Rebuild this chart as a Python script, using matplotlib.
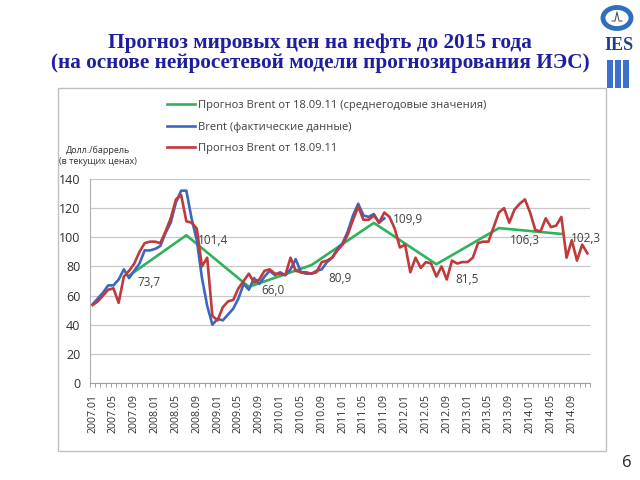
import numpy as np
import matplotlib
matplotlib.use("Agg")
import matplotlib.pyplot as plt
from matplotlib.patches import Rectangle, Circle
from matplotlib.lines import Line2D

plt.rcParams['font.family'] = ['Open Sans', 'DejaVu Sans']

# monthly categories 2007.01 .. 2014.12
years = range(2007, 2015)
categories = [f"{y}.{m:02d}" for y in years for m in range(1, 13)]

# Brent, actual monthly data (2007.01 .. 2011.09)
brent_actual = [54, 58, 62, 67, 67, 71, 78, 72, 77, 82, 91, 91,
                92, 94, 103, 110, 124, 132, 132, 113, 98, 72, 53, 40,
                44, 43, 47, 51, 58, 68, 64, 72, 68, 73, 77, 74,
                76, 74, 78, 85, 76, 75, 75, 77, 78, 83, 86, 92,
                96, 104, 115, 123, 115, 114, 116, 110, 113]

# neural network forecast from 18.09.11, monthly (2007.01 .. 2014.12)
brent_forecast = [53.5, 56, 60, 64, 65, 55, 73, 77, 82, 90, 96, 97,
                  97, 96, 104, 113, 126, 129, 111, 110, 106, 80, 86, 46,
                  43, 52, 56, 57, 65, 70, 75, 69, 71, 77, 78, 75,
                  75, 74, 86, 77, 76, 76, 75, 76, 83, 84, 86, 91,
                  95, 102, 112, 121, 112, 112, 115, 110, 117, 114, 106, 93,
                  95, 76, 86, 79, 83, 82, 73, 80, 71, 84, 82, 83,
                  83, 86, 96, 97, 97, 107, 117, 120, 110, 119, 123, 126,
                  117, 105, 104, 113, 107, 108, 114, 86, 98, 84, 95, 89]

# annual averages of the forecast
annual_months = ['2007.08', '2008.07', '2009.07', '2010.07',
                 '2011.07', '2012.07', '2013.07', '2014.07']
annual_values = [73.7, 101.4, 66.0, 80.9, 109.9, 81.5, 106.3, 102.3]
annual_labels = ['73,7', '101,4', '66,0', '80,9', '109,9', '81,5', '106,3', '102,3']

GREEN = '#2fb25a'
BLUE = '#3a68c0'
RED = '#c0393b'
TITLE_BLUE = '#1e1ea0'

fig = plt.figure(figsize=(6.4, 4.8), dpi=100)
W, H = 640, 480


def fx(px):
    return px / W


def fy(py):
    return 1 - py / H


ax = fig.add_axes([fx(90), fy(383), fx(500), (383 - 179) / H])

x_all = np.arange(len(categories))
x_actual = np.arange(len(brent_actual))
x_annual = [categories.index(m) for m in annual_months]

l_green, = ax.plot(x_annual, annual_values, color=GREEN, lw=1.9, zorder=3)
l_blue, = ax.plot(x_actual, brent_actual, color=BLUE, lw=1.9, zorder=4)
l_red, = ax.plot(x_all, brent_forecast, color=RED, lw=1.9, zorder=5)

label_offsets = [(8, -7), (12, -5), (13, -4), (17, -13), (19, 3), (19, -15), (11, -12), (10, -5)]
for xi, v, txt, off in zip(x_annual, annual_values, annual_labels, label_offsets):
    ax.annotate(txt, (xi, v), xytext=off, textcoords='offset pixels',
                fontsize=8.5, color='#404040', ha='left', va='center', zorder=6)

ax.set_xlim(-0.5, len(categories) - 0.5)
ax.set_ylim(0, 140)
ax.set_yticks(range(0, 141, 20))
ax.yaxis.grid(True, color='#c8c8c8', lw=0.9)
ax.set_axisbelow(True)
ax.tick_params(axis='y', length=0, pad=7, labelsize=9, labelcolor='#303030')

ax.set_xticks(x_all[::4])
ax.set_xticklabels(categories[::4], rotation=90, fontsize=7.7, color='#303030')
ax.set_xticks(np.arange(-0.5, len(categories)), minor=True)
ax.tick_params(axis='x', which='major', length=0, pad=8)
ax.tick_params(axis='x', which='minor', length=3, color='#a0a0a0', width=0.7)

for s in ('top', 'right'):
    ax.spines[s].set_visible(False)
ax.spines['left'].set_color('#b0b0b0')
ax.spines['bottom'].set_color('#a0a0a0')

ax.legend([l_green, l_blue, l_red],
          ['Прогноз Brent от 18.09.11 (среднегодовые значения)',
           'Brent (фактические данные)',
           'Прогноз Brent от 18.09.11'],
          loc='upper left', bbox_to_anchor=(fx(167), fy(100)),
          bbox_transform=fig.transFigure, frameon=False, fontsize=8,
          handlelength=2.5, handletextpad=0.3, labelspacing=0.95,
          borderaxespad=0, borderpad=0, labelcolor='#404040')

fig.text(fx(98), fy(150), 'Долл./баррель', fontsize=6.5, ha='center', va='center', color='#303030')
fig.text(fx(98), fy(162), '(в текущих ценах)', fontsize=6.5, ha='center', va='center', color='#303030')

# chart frame
fig.add_artist(Rectangle((fx(58), fy(451)), fx(548), (451 - 88) / H, transform=fig.transFigure,
                         fill=False, edgecolor='#c0c0c0', lw=1.0))

# title
fig.text(0.5, fy(43), 'Прогноз мировых цен на нефть до 2015 года', ha='center', va='center',
         fontsize=15.3, fontweight='bold', family='Liberation Serif', color=TITLE_BLUE)
fig.text(0.5, fy(63), '(на основе нейросетевой модели прогнозирования ИЭС)', ha='center', va='center',
         fontsize=15.3, fontweight='bold', family='Liberation Serif', color=TITLE_BLUE)

# logo
fig.add_artist(Circle((fx(617), fy(18)), 14 / W, transform=fig.transFigure, fill=False,
                      edgecolor='#2f6fc0', lw=3.5))
fig.add_artist(Line2D([fx(612), fx(615), fx(617), fx(619), fx(622)],
                      [fy(21), fy(21), fy(12), fy(21), fy(21)],
                      transform=fig.transFigure, color='#555555', lw=0.8))
fig.text(fx(619), fy(46), 'IES', ha='center', va='center', fontsize=13, fontweight='bold',
         family='Liberation Serif', color='#1e3f8a')
for bx in (607, 615, 623):
    fig.add_artist(Rectangle((fx(bx), fy(88)), fx(6), 28 / H, transform=fig.transFigure,
                             facecolor='#3b6fd0', edgecolor='none'))

fig.text(fx(627), fy(463), '6', ha='center', va='center', fontsize=12, color='#222222')

fig.savefig('out.png', dpi=100)
